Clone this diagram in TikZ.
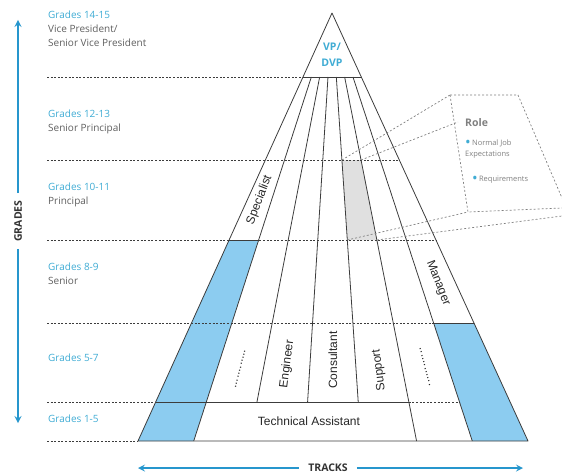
\documentclass[tikz,border=0pt]{standalone}
\usepackage{fontspec}
\setmainfont{Liberation Sans}
\newfontfamily\gradefont{Open Sans}
\usetikzlibrary{positioning,calc}
\definecolor{bandblue}{RGB}{140,204,240}
\definecolor{gradeteal}{RGB}{64,172,212}
\definecolor{arrowblue}{RGB}{38,150,205}
\definecolor{rankgrey}{RGB}{95,95,95}
\definecolor{cellgrey}{RGB}{224,224,224}
\definecolor{edgegrey}{RGB}{60,60,60}
% point on the k-th track line (k=0..7) at height y
\def\px#1#2{({332+(#1*390/7-194)*((#2-13)/428)},#2)}
\def\rolebullet{{\color{gradeteal}\fontsize{15}{11}\selectfont\raisebox{-0.12em}{\textbullet}}}
\tikzset{
  gradeline/.style={edgegrey, line width=0.7pt, dash pattern=on 2pt off 1.6pt},
  pyr/.style={edgegrey, line width=0.8pt},
  grade/.style={anchor=north west, align=left, inner sep=0pt, font=\gradefont\fontsize{10}{14}\selectfont, text=rankgrey},
  track/.style={font=\fontsize{12}{14}\selectfont, text=black!85},
  axis/.style={font=\gradefont\bfseries\fontsize{10.5}{12}\selectfont, text=black!80},
  bigarrow/.style={->, arrowblue, line width=2pt},
  rolebox/.style={gray, line width=0.7pt, dash pattern=on 2pt off 2pt},
  roletext/.style={font=\gradefont\fontsize{7.5}{11}\selectfont, text=gray, inner sep=0pt}
}
\begin{document}
\begin{tikzpicture}[x=1pt, y=-1pt, line join=round, >=stealth]
\useasboundingbox (0,0) rectangle (562,476);
% coloured cells
\fill[bandblue] \px{0}{240} -- \px{1}{240} -- \px{1}{441} -- \px{0}{441} -- cycle;
\fill[bandblue] \px{6}{323} -- \px{7}{323} -- \px{7}{441} -- \px{6}{441} -- cycle;
\fill[cellgrey] \px{4}{160} -- \px{5}{160} -- \px{5}{240} -- \px{4}{240} -- cycle;
% grade lines
\draw[gradeline] (47,77) -- \px{0}{77};
\foreach \y in {160,240,323}
  \draw[gradeline] (47,\y) -- \px{7}{\y};
\draw[gradeline] (47,402) -- \px{0}{402};
\draw[gradeline] \px{5}{402} -- \px{6}{402};
\draw[gradeline] (47,441) -- \px{0}{441};
% pyramid
\draw[pyr] (332,13) -- \px{0}{441} -- \px{7}{441} -- cycle;
\draw[pyr] \px{0}{77} -- \px{7}{77};
\foreach \k in {1,5,6}
  \draw[pyr] \px{\k}{77} -- \px{\k}{441};
\foreach \k in {2,3,4}
  \draw[pyr] \px{\k}{77} -- \px{\k}{402};
\draw[pyr] \px{0}{402} -- \px{5}{402};
\draw[pyr] \px{0}{240} -- \px{1}{240};
\draw[pyr] \px{6}{323} -- \px{7}{323};
% role callout
\draw[rolebox] \px{4}{160} -- (450,95);
\draw[rolebox] \px{5}{160} -- (458,122);
\draw[rolebox] \px{4}{240} -- (468,212);
\draw[rolebox] \px{5}{240} -- (562,216);
\draw[rolebox] (450,95) -- (518,95) -- (562,198);
\draw[rolebox] (450,95) -- (468,212) -- (562,208);
\node[anchor=west, font=\gradefont\bfseries\fontsize{10.5}{11}\selectfont, text=gray, inner sep=0pt] (role) at (465,123) {Role};
\node[roletext, anchor=north west, align=left] (normal) at (465,140)
  {\rolebullet\,Normal Job\\Expectations};
\node[roletext, anchor=west] (req) at (472,180)
  {\rolebullet\,Requirements};
% labels inside
\node[font=\gradefont\bfseries\fontsize{10.5}{16}\selectfont, text=gradeteal, align=center] (vp) at (332,55) {VP/\\DVP};
\node[track, rotate=68.8] (spec) at \px{0.5}{200} {Specialist};
\node[track, rotate=75.5] (dots1) at \px{1.5}{369} {............};
\node[track, rotate=82.7] (eng) at \px{2.5}{364} {Engineer};
\node[track, rotate=90] (cons) at \px{3.5}{360} {Consultant};
\node[track, rotate=97.5] (supp) at \px{4.5}{370} {Support};
\node[track, rotate=104.5] (dots2) at \px{5.5}{367} {............};
\node[track, rotate=-68.6] (mgr) at \px{6.5}{283} {Manager};
\node[track] (tech) at (309,421) {Technical Assistant};
% grade labels
\node[grade] (g1415) at (48,11) {\textcolor{gradeteal}{Grades 14-15}\\Vice President/\\Senior Vice President};
\node[grade] (g1213) at (48,110) {\textcolor{gradeteal}{Grades 12-13}\\Senior Principal};
\node[grade] (g1011) at (48,183) {\textcolor{gradeteal}{Grades 10-11}\\Principal};
\node[grade] (g89) at (48,263) {\textcolor{gradeteal}{Grades 8-9}\\Senior};
\node[grade] (g57) at (48,354) {\textcolor{gradeteal}{Grades 5-7}};
\node[grade] (g15) at (48,415) {\textcolor{gradeteal}{Grades 1-5}};
% axes
\node[axis, rotate=90, inner sep=7pt] (grades) at (18,221) {GRADES};
\coordinate (gtop) at (18,20);
\coordinate (gbot) at (18,423);
\draw[bigarrow] (grades.east) -- (gtop);
\draw[bigarrow] (grades.west) -- (gbot);
\node[axis, inner sep=9pt] (tracks) at (328,468) {TRACKS};
\coordinate (tleft) at (138,468);
\coordinate (tright) at (523,468);
\draw[bigarrow] (tracks.west) -- (tleft);
\draw[bigarrow] (tracks.east) -- (tright);
\end{tikzpicture}
\end{document}
